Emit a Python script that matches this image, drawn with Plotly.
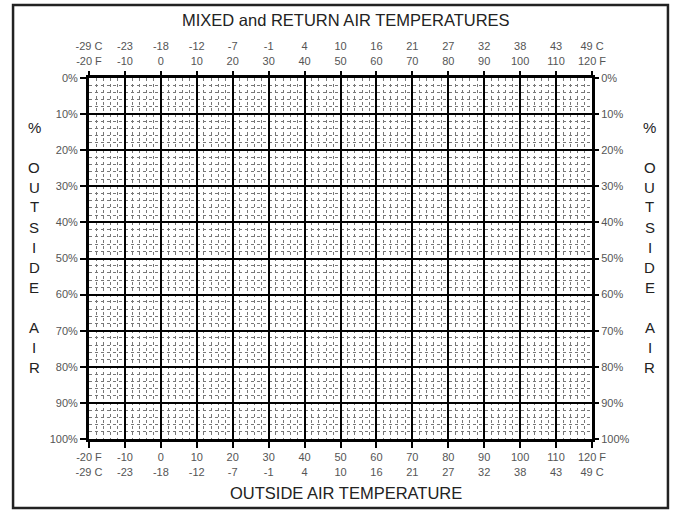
import plotly.graph_objects as go

# ---- data ----
temps_f = [-20, -10, 0, 10, 20, 30, 40, 50, 60, 70, 80, 90, 100, 110, 120]
temps_c = [-29, -23, -18, -12, -7, -1, 4, 10, 16, 21, 27, 32, 38, 43, 49]
pct_vals = [0, 10, 20, 30, 40, 50, 60, 70, 80, 90, 100]
pct_labels = [f"{v}%" for v in pct_vals]
title_top = "MIXED and RETURN AIR TEMPERATURES"
title_bottom = "OUTSIDE AIR TEMPERATURE"
side_letters = ["%", "", "O", "U", "T", "S", "I", "D", "E", "", "A", "I", "R"]

# tick texts
bottom_text = []
top_text = []
for i, (f, c) in enumerate(zip(temps_f, temps_c)):
    fs = f"{f} F" if i in (0, len(temps_f) - 1) else f"{f}"
    cs = f"{c} C" if i in (0, len(temps_f) - 1) else f"{c}"
    bottom_text.append(f"{fs}<br>{cs}")
    top_text.append(f"{cs}<br>{fs}")

FONT = "Arial, Liberation Sans, sans-serif"
tickfont = dict(family=FONT, size=11, color="#555")

fig = go.Figure()
fig.add_trace(go.Scatter(x=temps_f, y=[None] * len(temps_f), mode="markers",
                         xaxis="x", yaxis="y", showlegend=False, hoverinfo="skip"))
fig.add_trace(go.Scatter(x=temps_f, y=[None] * len(temps_f), mode="markers",
                         xaxis="x2", yaxis="y2", showlegend=False, hoverinfo="skip"))

xr = [temps_f[0], temps_f[-1]]
yr = [pct_vals[-1], pct_vals[0]]

common_x = dict(range=xr, tickmode="array", tickvals=temps_f, ticks="outside",
                ticklen=6, tickwidth=2, tickcolor="black", zeroline=False,
                tickfont=tickfont, fixedrange=True, automargin=False)
common_y = dict(range=yr, tickmode="array", tickvals=pct_vals, ticktext=pct_labels,
                ticks="outside", ticklen=6, tickwidth=2, tickcolor="black",
                zeroline=False, tickfont=tickfont, fixedrange=True, automargin=False)

fig.update_layout(
    width=673, height=510,
    margin=dict(l=89, r=81, t=78, b=71, autoexpand=False),
    paper_bgcolor="white", plot_bgcolor="white",
    showlegend=False,
    xaxis=dict(**common_x, ticktext=bottom_text, side="bottom",
               showgrid=True, gridcolor="black", gridwidth=2,
               showline=True, linecolor="black", linewidth=3, mirror=True,
               minor=dict(dtick=2, tick0=-20, showgrid=True, gridcolor="#777",
                          griddash="dot", gridwidth=1)),
    xaxis2=dict(**common_x, ticktext=top_text, side="top", overlaying="x",
                showgrid=False, showline=False, ticklabelstandoff=2),
    yaxis=dict(**common_y, side="left",
               showgrid=True, gridcolor="black", gridwidth=2,
               showline=True, linecolor="black", linewidth=3, mirror=True,
               minor=dict(dtick=2, tick0=0, showgrid=True, gridcolor="#777",
                          griddash="dot", gridwidth=1)),
    yaxis2=dict(**common_y, side="right", overlaying="y", showgrid=False,
                showline=False),
)

# outer frame
fig.add_shape(type="rect", xref="paper", yref="paper",
              x0=-0.151, x1=1.151, y0=-0.191, y1=1.202,
              line=dict(color="#222", width=2.5), layer="below")

# titles
ann_common = dict(xref="paper", yref="paper", showarrow=False,
                  xanchor="center", yanchor="middle")
fig.add_annotation(text=title_top, x=0.511, y=1.161, **ann_common,
                   font=dict(family=FONT, size=16.5, color="#222"))
fig.add_annotation(text=title_bottom, x=0.511, y=-0.150, **ann_common,
                   font=dict(family=FONT, size=16.5, color="#222"))

# vertical side labels
H = 361.0
for i, ch in enumerate(side_letters):
    if not ch:
        continue
    py = 127 + 20 * i
    yp = 1 - (py - 78) / H
    for xp in (-0.109, 1.115):
        fig.add_annotation(text=ch, x=xp, y=yp, **ann_common,
                           font=dict(family=FONT, size=15, color="#222"))

fig.write_html(
    "out.html",
    config={"displayModeBar": False},
    post_script="document.body.style.margin='0';document.body.style.overflow='hidden';",
)
